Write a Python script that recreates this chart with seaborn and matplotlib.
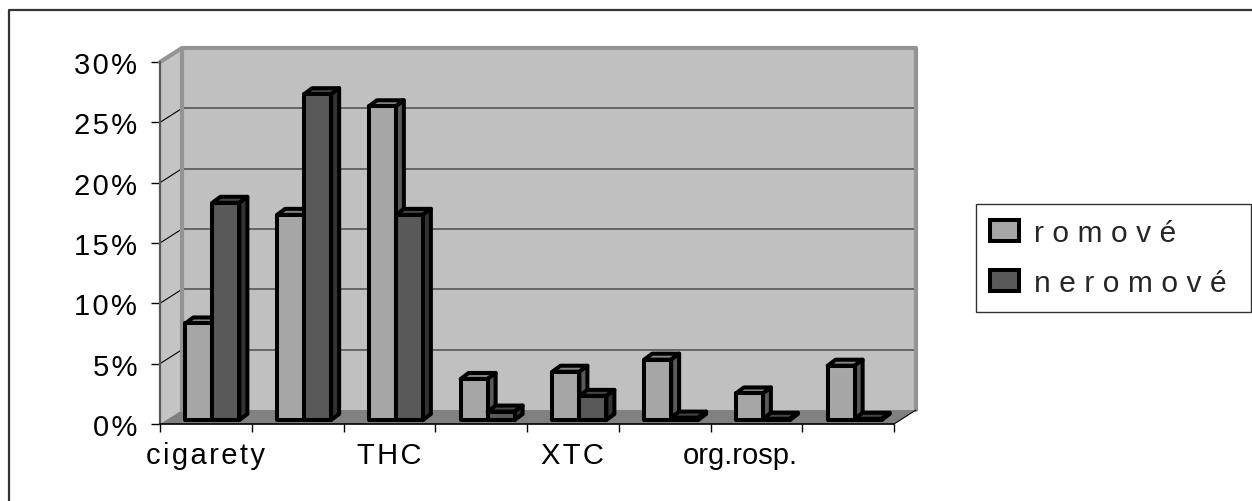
import matplotlib
matplotlib.use("Agg")
import pandas as pd
import seaborn as sns
import matplotlib.pyplot as plt
from matplotlib.patches import Polygon, Rectangle
from matplotlib.lines import Line2D
from matplotlib.transforms import Affine2D

# DATA ---------------------------------------------------------------------
slots = [0, 1, 2, 3, 4, 5, 6, 7]
slot_labels = ["cigarety", "", "THC", "", "XTC", "", "org.rosp.", ""]
romove = [8, 17, 26, 3.4, 4, 5, 2.2, 4.5]
neromove = [18, 27, 17, 0.7, 2, 0.2, 0.1, 0.1]
y_ticks = [0, 5, 10, 15, 20, 25, 30]
series_names = ["romové", "neromové"]

LIGHT, DARK = "#a6a6a6", "#595959"
LIGHT_TOP, DARK_TOP = "#858585", "#474747"
LIGHT_SIDE, DARK_SIDE = "#5a5a5a", "#333333"
FS = 21
BAR_LW = 2.9


def spaced(s, gap="\u200a"):
    # the original has wide letter spacing
    return gap.join(s)


sns.set_theme(style="white")
plt.rcParams["font.family"] = ["Liberation Sans", "DejaVu Sans"]
W, H = 1252, 502
fig = plt.figure(figsize=(W / 100, H / 100), dpi=100)
ax = fig.add_axes([160 / W, (H - 425) / H, 734 / W, 362 / H])

df = pd.DataFrame({
    "slot": slots * 2,
    "value": romove + neromove,
    "group": [series_names[0]] * 8 + [series_names[1]] * 8,
})
sns.barplot(data=df, x="slot", y="value", hue="group", palette=[LIGHT, DARK],
            width=54 / 91.75, gap=0, saturation=1, edgecolor="black", linewidth=BAR_LW,
            legend=False, ax=ax, zorder=5)
ax.set_xlim(-0.5, 7.5)
ax.set_ylim(0, 30)

PX = 8 / 734
PY = 30 / 362


def to_data(px, py):
    return px * PX, py * PY


# WALLS --------------------------------------------------------------------
wx, wy = to_data(22, 14)
x0, x1 = -0.5, 7.5
ax.add_patch(Polygon([(x0 + wx, wy), (x1 + wx, wy), (x1 + wx, 30 + wy), (x0 + wx, 30 + wy)],
                     fc="#c0c0c0", ec="none", clip_on=False, zorder=1))
ax.add_patch(Polygon([(x0, 0), (x0 + wx, wy), (x0 + wx, 30 + wy), (x0, 30)],
                     fc="#c4c4c4", ec="none", clip_on=False, zorder=1))
ax.add_patch(Polygon([(x0, 0), (x1, 0), (x1 + wx, wy), (x0 + wx, wy)],
                     fc="#808080", ec="none", clip_on=False, zorder=1))
for v in y_ticks[1:-1]:
    ax.add_line(Line2D([x0 + wx, x1 + wx], [v + wy, v + wy], color="#4d4d4d", lw=1.1,
                       clip_on=False, zorder=2))
    ax.add_line(Line2D([x0, x0 + wx], [v, v + wy], color="black", lw=0.8, clip_on=False, zorder=2))
WALL = "#949494"
ax.add_line(Line2D([x0 + wx, x0 + wx], [wy, 30 + wy], color=WALL, lw=3, clip_on=False, zorder=3))
ax.add_line(Line2D([x0, x0 + wx, x1 + wx, x1 + wx], [30, 30 + wy, 30 + wy, wy],
                   color=WALL, lw=3, clip_on=False, zorder=3))
ax.add_line(Line2D([x1 + wx, x1], [wy, 0], color="black", lw=0.8, clip_on=False, zorder=3))
ax.add_line(Line2D([x0, x0], [0, 30], color="#595959", lw=1.6, clip_on=False, zorder=3))
ax.add_line(Line2D([x0, x1], [0, 0], color="black", lw=1.2, clip_on=False, zorder=3))

# 3D BARS ------------------------------------------------------------------
shift = ax.transData + Affine2D().translate(6.5, 4)
dx, dy = to_data(8, 6)
n = len(slots)
bars = [p for p in ax.patches if isinstance(p, Rectangle) and p.get_width() < 1]
for i, bar in enumerate(bars[:2 * n]):
    tops = LIGHT_TOP if i < n else DARK_TOP
    sides = LIGHT_SIDE if i < n else DARK_SIDE
    xa, w, h = bar.get_x(), bar.get_width(), bar.get_height()
    xb = xa + w
    z = 6 + (i % n) * 3 + (3 if i >= n else 0)
    ax.add_patch(Polygon([(xa, h), (xb, h), (xb + dx, h + dy), (xa + dx, h + dy)],
                         fc=tops, ec="black", lw=BAR_LW, joinstyle="round",
                         transform=shift, clip_on=False, zorder=z))
    ax.add_patch(Polygon([(xb, 0), (xb, h), (xb + dx, h + dy), (xb + dx, dy)],
                         fc=sides, ec="black", lw=BAR_LW, joinstyle="round",
                         transform=shift, clip_on=False, zorder=z))
    bar.set_transform(shift)
    bar.set_clip_on(False)
    bar.set_joinstyle("round")
    bar.set_zorder(z + 1)

# AXES ---------------------------------------------------------------------
for s in ax.spines.values():
    s.set_visible(False)
ax.patch.set_alpha(0)
ax.set_xlabel("")
ax.set_ylabel("")
ax.set_yticks(y_ticks)
ax.set_yticklabels([spaced(f"{v}%") for v in y_ticks])
ax.set_xticks(slots)
ax.set_xticklabels([s if s == "org.rosp." else spaced(s) for s in slot_labels])
ax.set_xticks([s - 0.5 for s in slots] + [7.5], minor=True)
ax.tick_params(axis="y", left=True, length=6.5, width=1, color="black", labelsize=FS, pad=10,
               labelcolor="black")
ax.tick_params(axis="x", which="major", length=0, labelsize=FS, pad=12, labelcolor="black")
ax.tick_params(axis="x", which="minor", bottom=True, length=6, width=1, color="black")
# org.rosp. sits left of its slot in the original
lab = ax.get_xticklabels()[6]
lab.set_transform(lab.get_transform() + Affine2D().translate(-16, 0))

# LEGEND -------------------------------------------------------------------
handles = [Rectangle((0, 0), 1, 1, fc=LIGHT, ec="black", lw=BAR_LW),
           Rectangle((0, 0), 1, 1, fc=DARK, ec="black", lw=BAR_LW)]
leg = fig.legend(handles, [spaced(s, "\u2009\u200a") for s in series_names], loc="upper left",
                 bbox_to_anchor=(975.5 / W, (H - 313) / H, 275.5 / W, 108 / H),
                 bbox_transform=fig.transFigure, mode="expand",
                 fontsize=FS + 0.5, frameon=True, fancybox=False, edgecolor="#333333",
                 framealpha=1, borderaxespad=0, handlelength=0.95, handleheight=0.7,
                 handletextpad=0.5, labelspacing=0.75, borderpad=0.5)
leg.get_frame().set_linewidth(1)

# outer chart frame, runs off the right and bottom of the picture
fig.add_artist(Line2D([9 / W, 9 / W, 1], [0, (H - 11) / H, (H - 11) / H],
                      color="#333333", lw=1.6))

fig.savefig("out.png", dpi=100)
